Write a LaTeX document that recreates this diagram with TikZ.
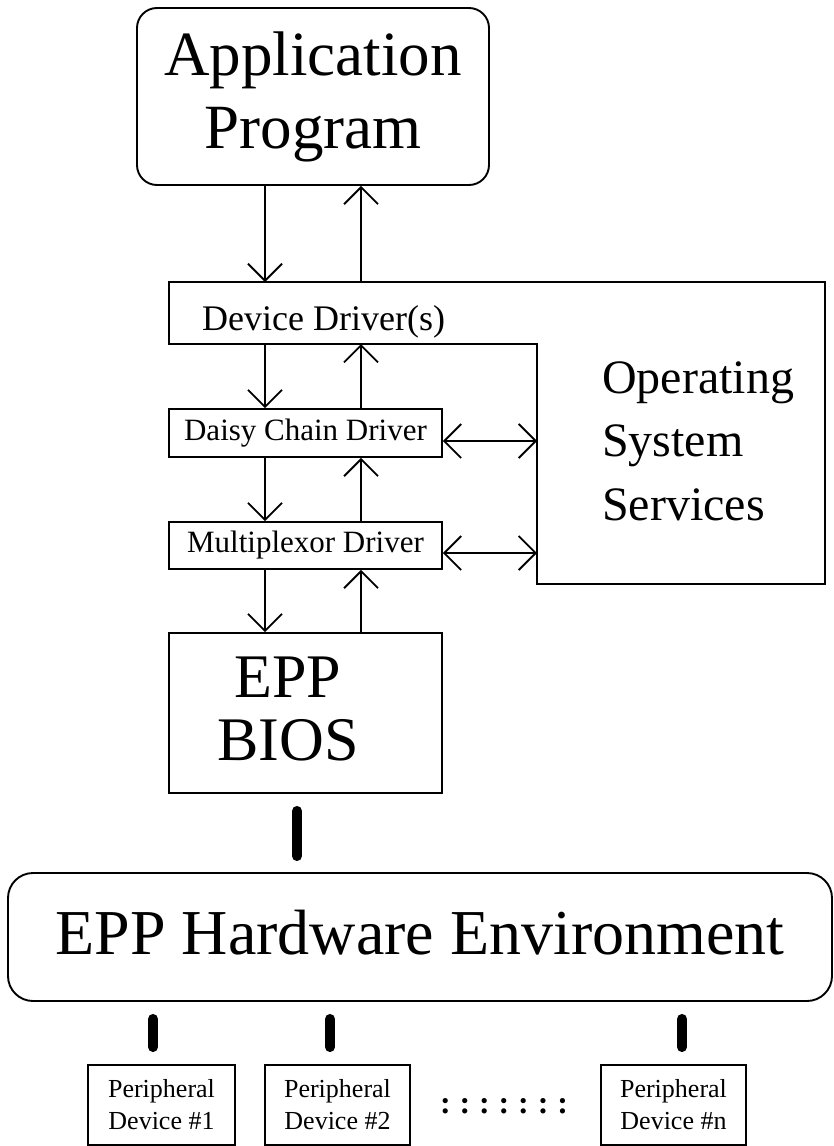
\documentclass[tikz,border=0pt]{standalone}
\usepackage{fontspec}
\setmainfont{Liberation Serif}
\usetikzlibrary{arrows.meta}
\tikzset{
  box/.style={draw, line width=1.9pt, inner sep=0pt},
  tip/.tip={Straight Barb[length=17pt,width=34pt,line width=1.8pt]},
  arr/.style={line width=1.8pt, -tip},
  darr/.style={line width=1.8pt, tip-tip},
  bar/.style={line width=10pt, line cap=round},
  periph/.style={box, minimum height=80pt, align=center, font=\fontsize{26}{32}\selectfont},
}
\begin{document}
\begin{tikzpicture}[x=1pt,y=-1pt]
\useasboundingbox (0,0) rectangle (833,1146);

% Application Program
\node[box, rounded corners=20pt, minimum width=352pt, minimum height=177pt, align=center,
      font=\fontsize{63}{73}\selectfont] (app) at (313,96.5) {Application\\Program};

% Device Driver(s) + Operating System Services outline
\coordinate (ddA) at (169,282);
\coordinate (ddB) at (825,282);
\coordinate (ddC) at (825,584);
\coordinate (ddD) at (537,584);
\coordinate (ddE) at (537,344);
\coordinate (ddF) at (169,344);
\draw[line width=1.9pt] (ddA) -- (ddB) -- (ddC) -- (ddD) -- (ddE) -- (ddF) -- cycle;
\node[anchor=base west, inner sep=0pt, font=\fontsize{36}{36}\selectfont] (ddtext) at (202,330) {Device Driver(s)};
\node[anchor=base west, inner sep=0pt, align=left, font=\fontsize{48}{63.5}\selectfont] (ostext) at (602,520) {Operating\\System\\Services};

% Drivers
\node[box, minimum width=273pt, minimum height=48pt, font=\fontsize{31}{31}\selectfont] (daisy) at (305.5,433) {Daisy Chain Driver};
\node[box, minimum width=273pt, minimum height=47pt, font=\fontsize{31}{31}\selectfont] (mux) at (305.5,545.5) {Multiplexor Driver};

% EPP BIOS
\node[box, minimum width=273pt, minimum height=160pt] (bios) at (305.5,713) {};
\node[inner sep=0pt, align=center, font=\fontsize{62}{63}\selectfont] (biostext) at (288,708.5) {EPP\\BIOS};

% EPP Hardware Environment
\node[box, rounded corners=25pt, minimum width=824pt, minimum height=128pt, text depth=10pt,
      font=\fontsize{64}{64}\selectfont] (hw) at (420,937) {EPP Hardware Environment};

% Peripherals
\node[periph, minimum width=147pt] (p1) at (161.5,1105) {Peripheral\\Device \#1};
\node[periph, minimum width=145pt] (p2) at (337.5,1105) {Peripheral\\Device \#2};
\node[periph, minimum width=145pt] (pn) at (673.5,1105) {Peripheral\\Device \#n};
\node[inner sep=0pt, font=\fontsize{32}{32}\selectfont\bfseries] (dots) at (504,1106)
  {:\hspace{8.9pt}:\hspace{8.9pt}:\hspace{8.9pt}:\hspace{8.9pt}:\hspace{8.9pt}:\hspace{8.9pt}:};

% arrow columns
\coordinate (xd) at (265,0);
\coordinate (xu) at (361,0);
\draw[arr] (app.south -| xd) -- (ddA -| xd);
\draw[arr] (ddA -| xu) -- (app.south -| xu);
\draw[arr] (ddF -| xd) -- (daisy.north -| xd);
\draw[arr] (daisy.north -| xu) -- (ddF -| xu);
\draw[arr] (daisy.south -| xd) -- (mux.north -| xd);
\draw[arr] (mux.north -| xu) -- (daisy.south -| xu);
\draw[arr] (mux.south -| xd) -- (bios.north -| xd);
\draw[arr] (bios.north -| xu) -- (mux.south -| xu);

% to operating system services
\draw[darr] ([yshift=-8pt]daisy.east) -- ([yshift=-8pt]daisy.east -| ddE);
\draw[darr] ([yshift=-7.5pt]mux.east) -- ([yshift=-7.5pt]mux.east -| ddE);

% thick connectors
\coordinate (xb) at (297,0);
\coordinate (x1) at (153,0);
\coordinate (x2) at (330,0);
\coordinate (xn) at (682,0);
\draw[bar, shorten <=17pt, shorten >=16pt] (bios.south -| xb) -- (hw.north -| xb);
\draw[bar, shorten <=17pt, shorten >=17pt] (hw.south -| x1) -- (p1.north -| x1);
\draw[bar, shorten <=17pt, shorten >=17pt] (hw.south -| x2) -- (p2.north -| x2);
\draw[bar, shorten <=17pt, shorten >=17pt] (hw.south -| xn) -- (pn.north -| xn);
\end{tikzpicture}
\end{document}
